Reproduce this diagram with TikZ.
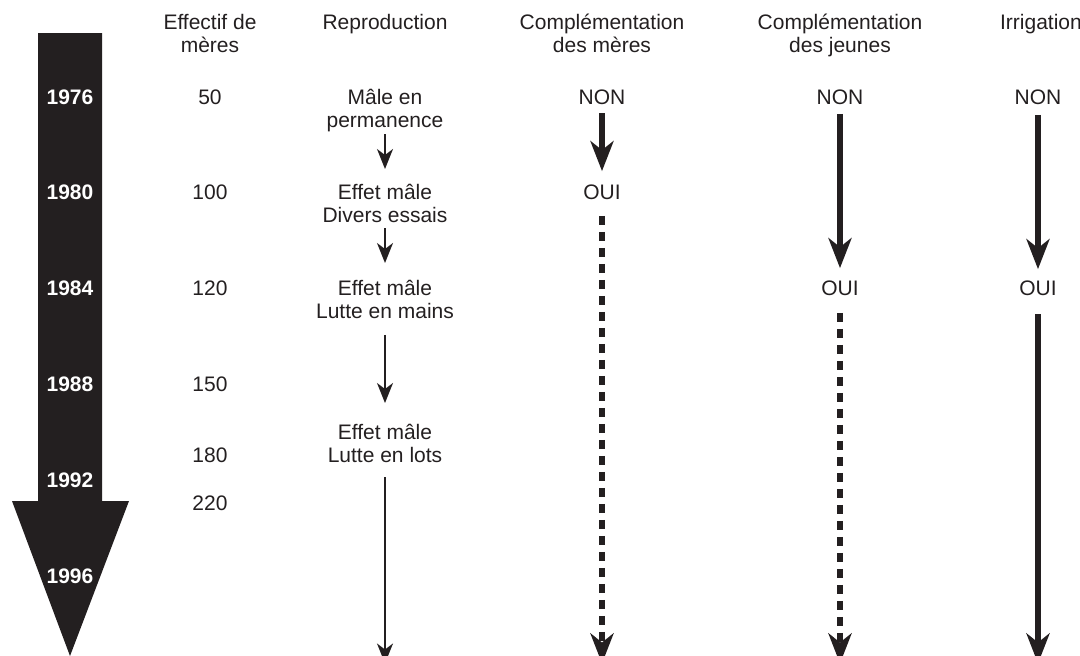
\documentclass[tikz,border=0pt]{standalone}
\usepackage{fontspec}
\setmainfont{Liberation Sans}
\usetikzlibrary{arrows.meta}

\begin{document}
\begin{tikzpicture}[x=1pt, y=-1pt, font=\fontsize{21}{23}\selectfont,
		every node/.style={inner sep=0pt, align=center, anchor=base, yshift=-7.5pt, text=inkblack},
		yearlabel/.style={text=white, font=\fontsize{21}{23}\selectfont\bfseries},
		thinarrow/.style={draw=inkblack, line width=2pt, -{Stealth[length=20pt, width=16pt, inset=6pt]}},
		thickarrow/.style={draw=inkblack, line width=5.5pt, -{Stealth[length=30pt, width=23pt, inset=9pt]}},
		dashedarrow/.style={thickarrow, dash pattern=on 9pt off 7pt}]
			% Define colors
			\definecolor{inkblack}{HTML}{231F20}   % near black print ink
			
			\useasboundingbox (0,0) rectangle (1080,656);
			
			% Big time arrow
			\fill[inkblack] (38,33) -- (102,33) -- (102,501) -- (129,501) -- (70,656) -- (12,501) -- (38,501) -- cycle;
			
			% Years inside the arrow
			\node[yearlabel] (y1976) at (70,97) {1976};
			\node[yearlabel] (y1980) at (70,192) {1980};
			\node[yearlabel] (y1984) at (70,288) {1984};
			\node[yearlabel] (y1988) at (70,384) {1988};
			\node[yearlabel] (y1992) at (70,480) {1992};
			\node[yearlabel] (y1996) at (70,576) {1996};
			
			% Column headers (two-line nodes sit on their last line)
			\node (h-eff) at (210,44.5) {Effectif de\\mères};
			\node (h-rep) at (385,21.5) {Reproduction};
			\node (h-cm) at (602,44.5) {Complémentation\\des mères};
			\node (h-cj) at (840,44.5) {Complémentation\\des jeunes};
			\node (h-irr) at (1041,21.5) {Irrigation};
			
			% Number of ewes
			\node (eff50) at (210,97) {50};
			\node (eff100) at (210,192) {100};
			\node (eff120) at (210,288) {120};
			\node (eff150) at (210,384) {150};
			\node (eff180) at (210,455) {180};
			\node (eff220) at (210,503) {220};
			
			% Reproduction
			\node (rep1) at (385,120) {Mâle en\\permanence};
			\node (rep2) at (385,215) {Effet mâle\\Divers essais};
			\node (rep3) at (385,311) {Effet mâle\\Lutte en mains};
			\node (rep4) at (385,455) {Effet mâle\\Lutte en lots};
			\coordinate (rep-end) at (385,656);
			\draw[thinarrow, shorten <=2pt, shorten >=15pt] (rep1) -- (rep2);
			\draw[thinarrow, shorten <=5.5pt, shorten >=17pt] (rep2) -- (rep3);
			\draw[thinarrow, shorten <=16pt, shorten >=21pt] (rep3) -- (rep4);
			\draw[thinarrow, shorten <=14.5pt] (rep4) -- (rep-end);
			
			% Supplementing the ewes
			\node (cm-non) at (602,97) {NON};
			\node (cm-oui) at (602,192) {OUI};
			\coordinate (cm-end) at (602,656);
			\draw[thickarrow, shorten <=8.5pt, shorten >=13.5pt] (cm-non) -- (cm-oui);
			\draw[dashedarrow, shorten <=16pt] (cm-oui) -- (cm-end);
			
			% Supplementing the young
			\node (cj-non) at (840,97) {NON};
			\node (cj-oui) at (840,288) {OUI};
			\coordinate (cj-end) at (840,656);
			\draw[thickarrow, shorten <=9pt, shorten >=12.5pt] (cj-non) -- (cj-oui);
			\draw[dashedarrow, shorten <=17pt] (cj-oui) -- (cj-end);
			
			% Irrigation
			\node (irr-non) at (1038,97) {NON};
			\node (irr-oui) at (1038,288) {OUI};
			\coordinate (irr-end) at (1038,656);
			\draw[thickarrow, shorten <=10pt, shorten >=11.5pt] (irr-non) -- (irr-oui);
			\draw[thickarrow, shorten <=18.5pt] (irr-oui) -- (irr-end);
		\end{tikzpicture}
\end{document}
